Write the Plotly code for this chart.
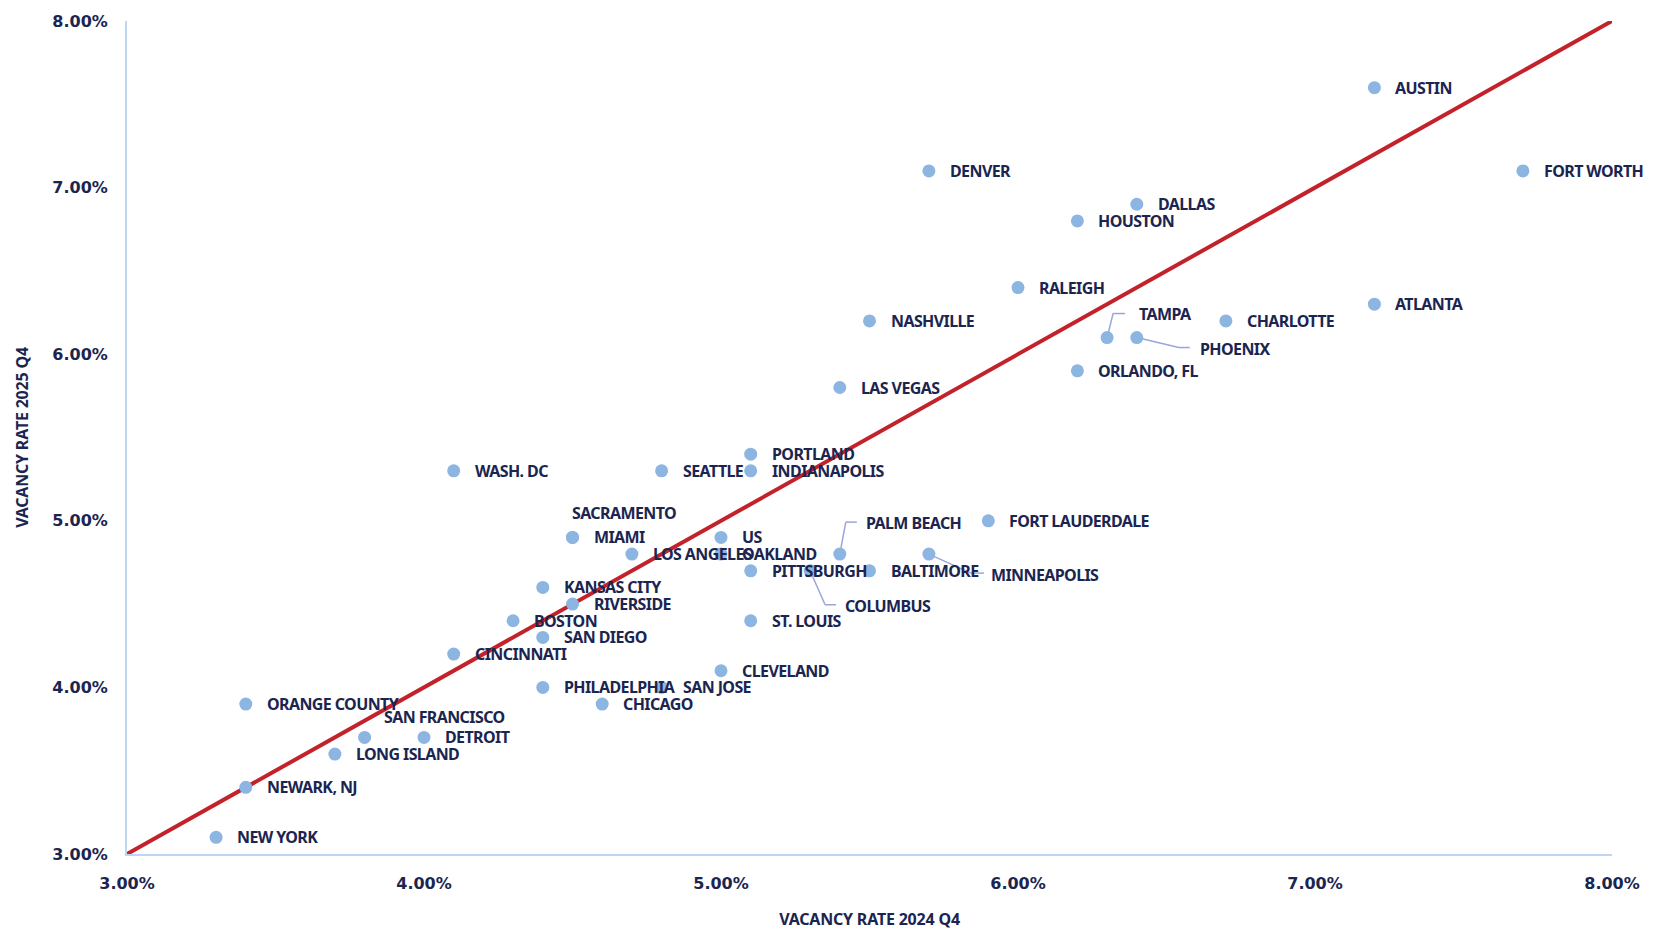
import plotly.graph_objects as go

# ---- data ----
cities = ["AUSTIN", "FORT WORTH", "DENVER", "DALLAS", "HOUSTON", "RALEIGH", "NASHVILLE",
          "TAMPA", "PHOENIX", "CHARLOTTE", "ATLANTA", "ORLANDO, FL", "LAS VEGAS",
          "PORTLAND", "INDIANAPOLIS", "SEATTLE", "WASH. DC", "SACRAMENTO", "MIAMI", "US",
          "LOS ANGELES", "OAKLAND", "PITTSBURGH", "COLUMBUS", "PALM BEACH", "BALTIMORE",
          "MINNEAPOLIS", "FORT LAUDERDALE", "KANSAS CITY", "RIVERSIDE", "BOSTON",
          "SAN DIEGO", "ST. LOUIS", "CINCINNATI", "CLEVELAND", "PHILADELPHIA", "SAN JOSE",
          "CHICAGO", "ORANGE COUNTY", "SAN FRANCISCO", "DETROIT", "LONG ISLAND",
          "NEWARK, NJ", "NEW YORK"]
vac_2024 = [7.2, 7.7, 5.7, 6.4, 6.2, 6.0, 5.5,
            6.3, 6.4, 6.7, 7.2, 6.2, 5.4,
            5.1, 5.1, 4.8, 4.1, 4.5, 4.5, 5.0,
            4.7, 5.0, 5.1, 5.3, 5.4, 5.5,
            5.7, 5.9, 4.4, 4.5, 4.3,
            4.4, 5.1, 4.1, 5.0, 4.4, 4.8,
            4.6, 3.4, 3.8, 4.0, 3.7,
            3.4, 3.3]
vac_2025 = [7.6, 7.1, 7.1, 6.9, 6.8, 6.4, 6.2,
            6.1, 6.1, 6.2, 6.3, 5.9, 5.8,
            5.4, 5.3, 5.3, 5.3, 4.9, 4.9, 4.9,
            4.8, 4.8, 4.7, 4.7, 4.8, 4.7,
            4.8, 5.0, 4.6, 4.5, 4.4,
            4.3, 4.4, 4.2, 4.1, 4.0, 4.0,
            3.9, 3.9, 3.7, 3.7, 3.6,
            3.4, 3.1]
parity_line = [3.0, 8.0]
tick_vals = [3, 4, 5, 6, 7, 8]
tick_text = ["3.00%", "4.00%", "5.00%", "6.00%", "7.00%", "8.00%"]
x_title = "VACANCY RATE 2024 Q4"
y_title = "VACANCY RATE 2025 Q4"

# ---- styles ----
NAVY = "#1b2550"
DOT = "#8db5e2"
RED = "#c4222b"
AXIS = "#bfd6f0"
LEADER = "#9aa5dc"
LABEL_FONT = dict(family="Noto Sans", size=16, color=NAVY, weight="bold")
TITLE_FONT = dict(family="Noto Sans", size=16, color=NAVY, weight="bold")
TICK_FONT = dict(family="DejaVu Sans, Open Sans, sans-serif", size=16, color=NAVY, weight="bold")


def narrow(s, sp=-0.6):
    return '<span style="letter-spacing:%spx">%s</span>' % (sp, s)


# label offsets (pixels): default right of the point
label_offsets = {
    "SACRAMENTO": (-3, 24),
    "SAN FRANCISCO": (17, 20),
    "TAMPA": (30, 24),
    "PHOENIX": (61, -11),
    "PALM BEACH": (24, 31),
    "MINNEAPOLIS": (60, -21),
    "COLUMBUS": (33, -35),
}
# leader lines (pixel paths relative to point), y up positive
leaders = {
    "TAMPA": [(0, 0), (6, 24), (18, 24)],
    "PHOENIX": [(0, 0), (42, -10), (53, -10)],
    "PALM BEACH": [(0, 0), (6, 32), (17, 32)],
    "MINNEAPOLIS": [(0, 0), (42, -19), (55, -19)],
    "COLUMBUS": [(0, 0), (15, -34), (26, -34)],
}

fig = go.Figure()
fig.add_trace(go.Scatter(x=parity_line, y=parity_line, mode="lines",
                         line=dict(color=RED, width=4), hoverinfo="skip", showlegend=False,
                         cliponaxis=False))
fig.add_trace(go.Scatter(x=vac_2024, y=vac_2025, mode="markers",
                         marker=dict(color=DOT, size=13), text=cities,
                         showlegend=False, cliponaxis=False))

shapes = []
for name, pts in leaders.items():
    i = cities.index(name)
    for (ax0, ay0), (ax1, ay1) in zip(pts[:-1], pts[1:]):
        shapes.append(dict(type="line", xref="x", yref="y",
                           xsizemode="pixel", ysizemode="pixel",
                           xanchor=vac_2024[i], yanchor=vac_2025[i],
                           x0=ax0, x1=ax1, y0=ay0, y1=ay1,
                           line=dict(color=LEADER, width=1.5), layer="below"))

annotations = []
for name, x, y in zip(cities, vac_2024, vac_2025):
    dx, dy = label_offsets.get(name, (19, 0))
    annotations.append(dict(x=x, y=y, text=narrow(name), showarrow=False, xanchor="left",
                            yanchor="middle", xshift=dx, yshift=dy, font=LABEL_FONT))

fig.update_layout(
    width=1664, height=938,
    margin=dict(l=127, r=52, t=19, b=82),
    plot_bgcolor="white", paper_bgcolor="white",
    shapes=shapes, annotations=annotations,
    xaxis=dict(range=[3, 8], tickvals=tick_vals, ticktext=tick_text, showgrid=False,
               zeroline=False, showline=True, linecolor=AXIS, linewidth=2,
               ticks="", tickfont=TICK_FONT, ticklabelstandoff=14,
               title=dict(text=narrow(x_title, -0.2), font=TITLE_FONT, standoff=22)),
    yaxis=dict(range=[3, 8], tickvals=tick_vals, ticktext=tick_text, showgrid=False,
               zeroline=False, showline=True, linecolor=AXIS, linewidth=2,
               ticks="", tickfont=TICK_FONT, ticklabelstandoff=14,
               title=dict(text=narrow(y_title, -0.2), font=TITLE_FONT, standoff=20)),
)

fig.write_html("out.html")
